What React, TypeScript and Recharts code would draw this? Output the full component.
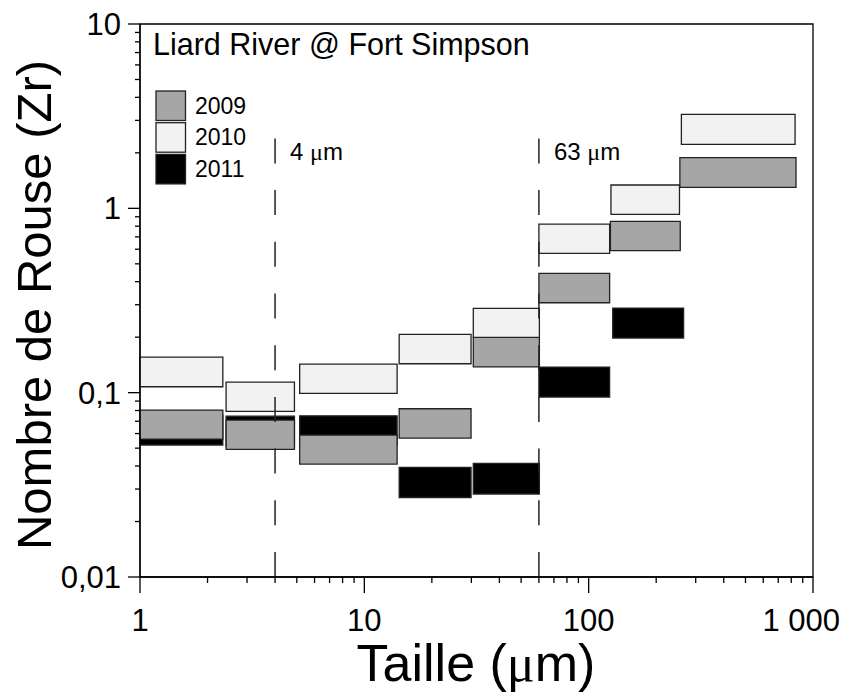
import { ComposedChart, Customized, ReferenceArea, ReferenceLine, Scatter, XAxis, YAxis } from 'recharts'

// years and fills
const YEARS = ['2009', '2010', '2011']
const FILLS: Record<string, string> = { '2009': '#a6a6a6', '2010': '#f2f2f2', '2011': '#000000' }

// size classes (um), read per year
const X_FROM_2009 = [1, 2.42, 5.15, 14.3, 30.6, 60, 125, 255]
const X_TO_2009 = [2.34, 4.88, 14.0, 29.9, 60.3, 124, 256, 840]
const X_FROM_2010 = [1, 2.42, 5.15, 14.3, 30.6, 60, 125.7, 259]
const X_TO_2010 = [2.34, 4.88, 14.0, 29.9, 60.3, 124, 254, 832]
const X_FROM_2011 = [1, 2.42, 5.15, 14.3, 30.6, 60, 128]
const X_TO_2011 = [2.34, 4.88, 14.0, 29.9, 60.3, 124, 265]

// Rouse number ranges
const ZR_LOW_2009 = [0.056, 0.0492, 0.041, 0.0567, 0.138, 0.3075, 0.589, 1.3]
const ZR_HIGH_2009 = [0.0805, 0.071, 0.0589, 0.0818, 0.1995, 0.444, 0.85, 1.882]
const ZR_LOW_2010 = [0.1077, 0.0791, 0.099, 0.1435, 0.1995, 0.57, 0.928, 2.225]
const ZR_HIGH_2010 = [0.156, 0.114, 0.143, 0.207, 0.2867, 0.822, 1.338, 3.236]
const ZR_LOW_2011 = [0.052, 0.0513, 0.052, 0.027, 0.0282, 0.0946, 0.198]
const ZR_HIGH_2011 = [0.0755, 0.0746, 0.0749, 0.0393, 0.0413, 0.1377, 0.2877]

const X_MAJOR = [1, 10, 100, 1000]
const X_MINOR = [2, 3, 4, 5, 6, 7, 8, 9, 20, 30, 40, 50, 60, 70, 80, 90, 200, 300, 400, 500, 600, 700, 800, 900]
const X_LABELS = ['1', '10', '100', '1 000']
const Y_MAJOR = [0.01, 0.1, 1, 10]
const Y_MINOR = [0.02, 0.03, 0.04, 0.05, 0.06, 0.07, 0.08, 0.09, 0.2, 0.3, 0.4, 0.5, 0.6, 0.7, 0.8, 0.9, 2, 3, 4, 5, 6, 7, 8, 9]
const Y_LABELS = ['0,01', '0,1', '1', '10']

const MARKS = [4, 60]
const MARK_LABELS = ['4', '63']
const MARK_TOP = 2.41

const FONT = '"Liberation Sans", Arial, Helvetica, sans-serif'
const MU_FONT = '"Liberation Serif", "Times New Roman", serif'

const boxesFor = (from: number[], to: number[], low: number[], high: number[], year: string) =>
	from.map((x1, i) => ({ year, x1, x2: to[i], y1: low[i], y2: high[i] }))

// 2011 drawn first, 2009 on top of it, then 2010
const boxes = [
	...boxesFor(X_FROM_2011, X_TO_2011, ZR_LOW_2011, ZR_HIGH_2011, '2011'),
	...boxesFor(X_FROM_2009, X_TO_2009, ZR_LOW_2009, ZR_HIGH_2009, '2009'),
	...boxesFor(X_FROM_2010, X_TO_2010, ZR_LOW_2010, ZR_HIGH_2010, '2010'),
]

const XTick = (props: any) => {
	const { x, y, payload } = props
	const i = X_MAJOR.indexOf(payload.value)
	const major = i >= 0
	const last = i === X_MAJOR.length - 1
	return (
		<g>
			<line x1={x} x2={x} y1={y} y2={y + (major ? 16 : 6)} stroke="#000" strokeWidth={1.3} />
			{major && (
				<text
					x={last ? x + 27 : x}
					y={y + 54}
					textAnchor={last ? 'end' : 'middle'}
					fontSize={31}
					fontFamily={FONT}
					fill="#000"
				>
					{X_LABELS[i]}
				</text>
			)}
		</g>
	)
}

const YTick = (props: any) => {
	const { x, y, payload } = props
	const i = Y_MAJOR.indexOf(payload.value)
	const major = i >= 0
	return (
		<g>
			<line x1={x} x2={x - (major ? 12 : 5)} y1={y} y2={y} stroke="#000" strokeWidth={1.3} />
			{major && (
				<text x={x - 19} y={y + 11} textAnchor="end" fontSize={31} fontFamily={FONT} fill="#000">
					{Y_LABELS[i]}
				</text>
			)}
		</g>
	)
}

const markLabel = (text: string) => (props: any) => {
	const { viewBox } = props
	return (
		<text x={viewBox.x + 15} y={viewBox.y + 22} fontSize={24} fontFamily={FONT} fill="#000">
			{text}{' '}
			<tspan fontFamily={MU_FONT}>μ</tspan>m
		</text>
	)
}

const Decorations = () => (
	<g>
		<text x={153} y={55} fontSize={30.5} fontFamily={FONT} fill="#000">
			Liard River @ Fort Simpson
		</text>
		{YEARS.map((year, i) => (
			<g key={year}>
				<rect x={156} y={91 + i * 31.7} width={29.5} height={29.5} fill={FILLS[year]} stroke="#222" strokeWidth={1.3} />
				<text x={195} y={113.5 + i * 31.7} fontSize={23} fontFamily={FONT} fill="#000">
					{year}
				</text>
			</g>
		))}
		<text x={33} y={305} transform="rotate(-90 33 305)" dy="0.36em" textAnchor="middle" fontSize={49} fontFamily={FONT} fill="#000">
			Nombre de Rouse (Zr)
		</text>
		<text x={476} y={681} textAnchor="middle" fontSize={52} fontFamily={FONT} fill="#000">
			Taille (<tspan fontFamily={MU_FONT}>μ</tspan>m)
		</text>
	</g>
)

export default function App() {
	return (
		<div style={{ position: 'absolute', left: 0, top: 0, background: '#fff' }}>
			<ComposedChart width={853} height={697} data={boxes} margin={{ top: 24, right: 40, bottom: 20, left: 40 }}>
				<XAxis
					type="number"
					dataKey="x1"
					scale="log"
					domain={[1, 1000]}
					allowDataOverflow
					ticks={[...X_MAJOR, ...X_MINOR]}
					interval={0}
					tickSize={0}
					tickMargin={0}
					tickLine={false}
					tick={<XTick />}
					axisLine={{ stroke: '#000', strokeWidth: 1.3 }}
					height={100}
				/>
				<YAxis
					type="number"
					scale="log"
					domain={[0.01, 10]}
					allowDataOverflow
					ticks={[...Y_MAJOR, ...Y_MINOR]}
					interval={0}
					tickSize={0}
					tickMargin={0}
					tickLine={false}
					tick={<YTick />}
					axisLine={{ stroke: '#000', strokeWidth: 1.3 }}
					width={100}
				/>
				<Scatter dataKey="y1" fill="none" shape={() => <g />} isAnimationActive={false} />
				<ReferenceArea x1={1} x2={1000} y1={0.01} y2={10} fill="none" stroke="#000" strokeWidth={1.3} />
				{MARKS.map((m, i) => (
					<ReferenceLine
						key={m}
						segment={[{ x: m, y: 0.01 }, { x: m, y: MARK_TOP }]}
						stroke="#222"
						strokeWidth={1.5}
						strokeDasharray="25 26.7"
						label={markLabel(MARK_LABELS[i])}
					/>
				))}
				{boxes.map((b, i) => (
					<ReferenceArea
						key={i}
						x1={b.x1}
						x2={b.x2}
						y1={b.y1}
						y2={b.y2}
						fill={FILLS[b.year]}
						fillOpacity={1}
						stroke="#222"
						strokeWidth={1.3}
					/>
				))}
				<Customized component={Decorations} />
			</ComposedChart>
		</div>
	)
}
